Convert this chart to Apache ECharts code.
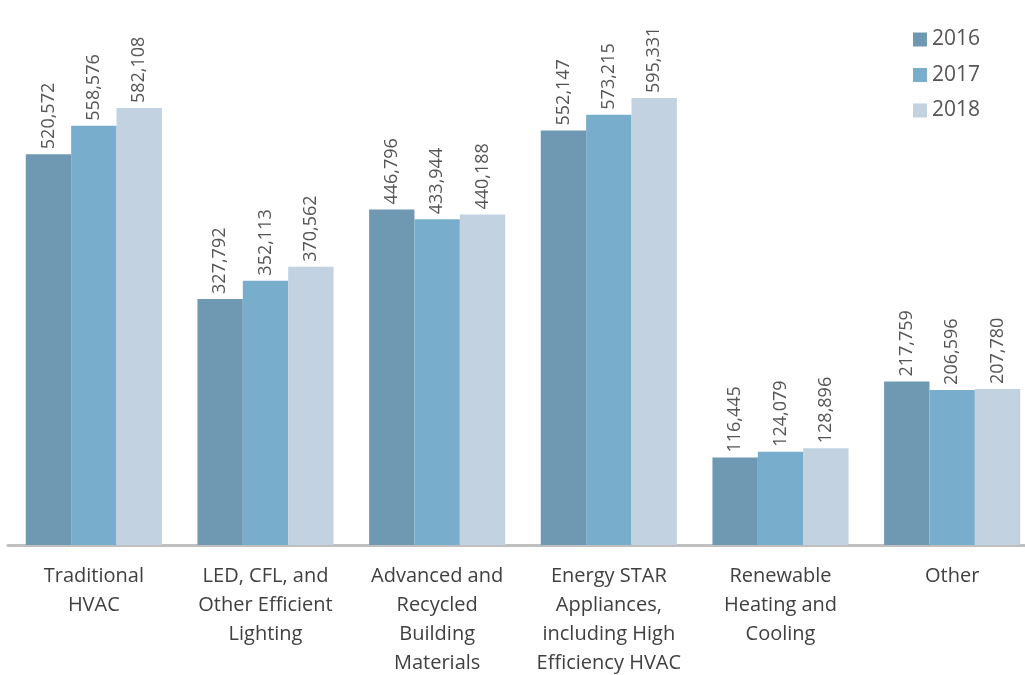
<!DOCTYPE html>
<html>
<head>
<meta charset="utf-8">
<script src="https://cdn.jsdelivr.net/npm/echarts@6/dist/echarts.min.js"></script>
<style>
	html, body { margin: 0; padding: 0; background: #fff; }
	#container { width: 1025px; height: 675px; }
</style>
</head>
<body>
<div id="container"></div>
<script>
var categorias = [
	'Traditional\nHVAC',
	'LED, CFL, and\nOther Efficient\nLighting',
	'Advanced and\nRecycled\nBuilding\nMaterials',
	'Energy STAR\nAppliances,\nincluding High\nEfficiency HVAC',
	'Renewable\nHeating and\nCooling',
	'Other'
];
var anios = ['2016', '2017', '2018'];
var datos2016 = [520572, 327792, 446796, 552147, 116445, 217759];
var datos2017 = [558576, 352113, 433944, 573215, 124079, 206596];
var datos2018 = [582108, 370562, 440188, 595331, 128896, 207780];
var colores = ['#6f99b3', '#78aecb', '#c2d2e1'];

var dom = document.getElementById("container");
var myChart = echarts.init(dom);

function serie(nombre, data, color) {
	return {
		name: nombre,
		type: 'bar',
		barGap: '0%',
		barCategoryGap: '20.7%',
		itemStyle: { color: color },
		label: {
			show: true,
			position: 'top',
			rotate: 90,
			align: 'left',
			verticalAlign: 'middle',
			distance: 5,
			color: '#555',
			fontSize: 18,
			fontFamily: 'Open Sans',
			formatter: function (p) { return p.value.toLocaleString('en-US'); }
		},
		data: data
	};
}

var option = {
	animation: false,
	textStyle: { fontFamily: 'Open Sans' },
	legend: {
		data: anios,
		orient: 'vertical',
		right: 40,
		top: 24,
		itemWidth: 14,
		itemHeight: 14,
		itemGap: 14.5,
		icon: 'rect',
		textStyle: { fontSize: 21, color: '#555', fontFamily: 'Open Sans' }
	},
	grid: {
		left: 8,
		width: 1030,
		top: 19.5,
		bottom: 130,
		containLabel: false,
		outerBoundsMode: 'none'
	},
	xAxis: [
		{
			type: 'category',
			data: categorias,
			axisLine: { lineStyle: { color: '#bfbfbf', width: 3 } },
			axisTick: { show: false },
			axisLabel: {
				color: '#404040',
				fontSize: 20,
				lineHeight: 29,
				margin: 17,
				interval: 0,
				fontFamily: 'Open Sans'
			}
		}
	],
	yAxis: [
		{
			type: 'value',
			min: 0,
			max: 700000,
			show: false,
			splitLine: { show: false }
		}
	],
	series: [
		serie(anios[0], datos2016, colores[0]),
		serie(anios[1], datos2017, colores[1]),
		serie(anios[2], datos2018, colores[2])
	]
};

myChart.setOption(option, true);
</script>
</body>
</html>
